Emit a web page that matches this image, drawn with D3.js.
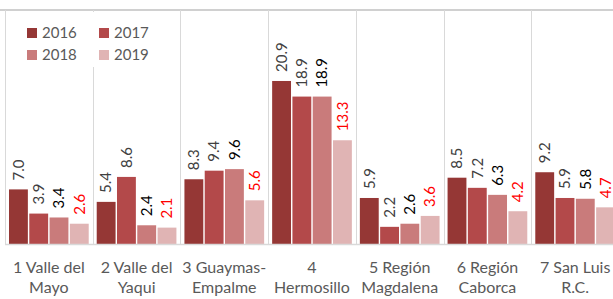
<!DOCTYPE html>
<meta charset="utf-8">
<head>
  <style>
    body { margin: 0; background: #fff; }
    svg { display: block; font-family: Lato, 'Open Sans', sans-serif; }
  </style>
</head>
<body>
<svg id="chart" width="613" height="299"></svg>
<script src="https://d3js.org/d3.v7.min.js"></script>
<script>

// data
var categories = ["1 Valle del Mayo", "2 Valle del Yaqui", "3 Guaymas-Empalme", "4 Hermosillo",
                  "5 Región Magdalena", "6 Región Caborca", "7 San Luis R.C."];
var categoryLines = [["1 Valle del", "Mayo"], ["2 Valle del", "Yaqui"], ["3 Guaymas-", "Empalme"],
                     ["4", "Hermosillo"], ["5 Región", "Magdalena"], ["6 Región", "Caborca"], ["7 San Luis", "R.C."]];
var years = ["2016", "2017", "2018", "2019"];
var v2016 = [7.0, 5.4, 8.3, 20.9, 5.9, 8.5, 9.2];
var v2017 = [3.9, 8.6, 9.4, 18.9, 2.2, 7.2, 5.9];
var v2018 = [3.4, 2.4, 9.6, 18.9, 2.6, 6.3, 5.8];
var v2019 = [2.6, 2.1, 5.6, 13.3, 3.6, 4.2, 4.7];
var series = [v2016, v2017, v2018, v2019];

var barColors = ["#953735", "#B3494A", "#C97B7B", "#E0B4B4"];
var labelColors = ["#404040", "#404040", "#000000", "#FF0000"];

var svg = d3.select("#chart");

var plotTop = 10, base = 244;

var x = d3.scaleBand().domain(categories).range([5, 619]);
var xi = d3.scaleBand().domain(years).range([4, x.bandwidth() - 4]).paddingInner(0.07);
var y = d3.scaleLinear().domain([0, 30]).range([base, plotTop]);

// top border
svg.append("line")
    .attr("x1", 0).attr("x2", 613)
    .attr("y1", plotTop).attr("y2", plotTop)
    .style("stroke", "#D0D0D0").style("stroke-width", 2);

// separators between regions
svg.selectAll(".sep")
    .data(categories)
  .enter().append("line")
    .attr("class", "sep")
    .attr("x1", function(d) { return Math.round(x(d)) + 0.5; })
    .attr("x2", function(d) { return Math.round(x(d)) + 0.5; })
    .attr("y1", plotTop).attr("y2", base + 1)
    .style("stroke", "#D9D9D9").style("stroke-width", 1);

// bars
var rows = [];
categories.forEach(function(c, i) {
  years.forEach(function(yr, j) {
    rows.push({cat: c, year: yr, s: j, value: series[j][i]});
  });
});

svg.selectAll(".bar")
    .data(rows)
  .enter().append("rect")
    .attr("class", "bar")
    .attr("x", function(d) { return x(d.cat) + xi(d.year); })
    .attr("width", xi.bandwidth())
    .attr("y", function(d) { return y(d.value); })
    .attr("height", function(d) { return base - y(d.value); })
    .style("fill", function(d) { return barColors[d.s]; });

// baseline
svg.append("line")
    .attr("x1", 5).attr("x2", 613)
    .attr("y1", base + 0.5).attr("y2", base + 0.5)
    .style("stroke", "#D9D9D9").style("stroke-width", 1.5);

// value labels, rotated
svg.selectAll(".val")
    .data(rows)
  .enter().append("text")
    .attr("class", "val")
    .attr("transform", function(d) {
      var cx = x(d.cat) + xi(d.year) + xi.bandwidth() / 2;
      return "translate(" + cx + "," + (y(d.value) - 9) + ") rotate(-90)";
    })
    .attr("dy", "0.35em")
    .style("font-size", "15px")
    .style("fill", function(d) { return labelColors[d.s]; })
    .text(function(d) { return d.value.toFixed(1); });

// category labels
var cl = svg.selectAll(".cat")
    .data(categories)
  .enter().append("text")
    .attr("class", "cat")
    .attr("text-anchor", "middle")
    .style("font-size", "16px")
    .style("fill", "#595959");

cl.selectAll("tspan")
    .data(function(d, i) { return categoryLines[i]; })
  .enter().append("tspan")
    .attr("x", function() { var c = d3.select(this.parentNode).datum(); return x(c) + x.bandwidth() / 2; })
    .attr("y", function(d, i) { return 273 + i * 20; })
    .text(function(d) { return d; });

// legend
var lg = svg.append("g");
lg.append("rect")
    .attr("x", 20).attr("y", 12).attr("width", 140).attr("height", 55)
    .style("fill", "#fff");

var li = lg.selectAll(".li")
    .data(years)
  .enter().append("g")
    .attr("transform", function(d, i) {
      return "translate(" + (27 + (i % 2) * 72) + "," + (28 + Math.floor(i / 2) * 22) + ")";
    });
li.append("rect")
    .attr("width", 10).attr("height", 10)
    .style("fill", function(d, i) { return barColors[i]; });
li.append("text")
    .attr("x", 15).attr("y", 10)
    .style("font-size", "15px")
    .style("fill", "#595959")
    .text(function(d) { return d; });

</script>
</body>
